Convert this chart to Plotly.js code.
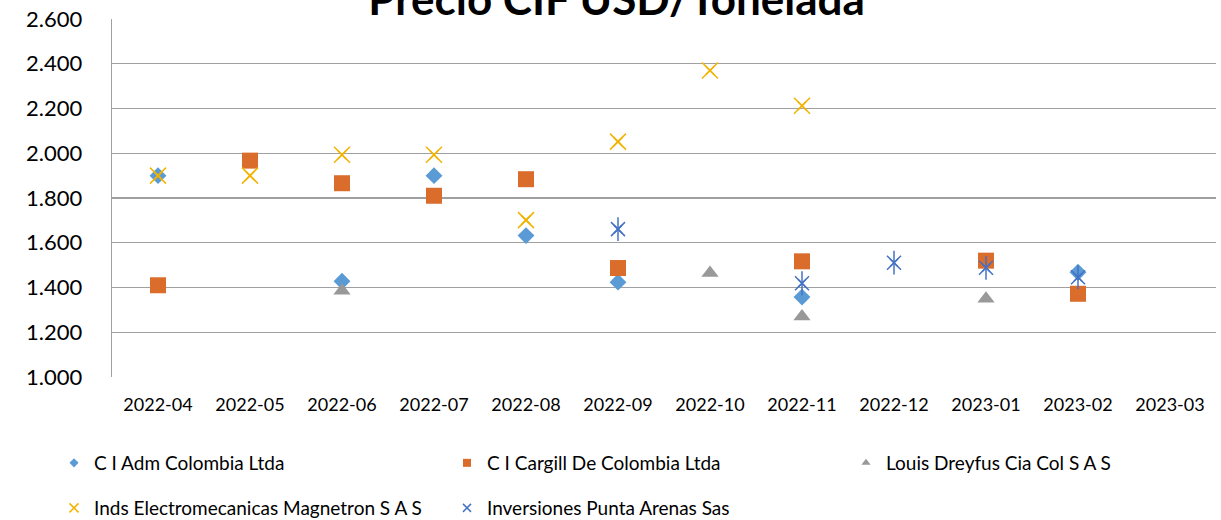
<!DOCTYPE html>
<html>
<head>
<meta charset="utf-8">
<script src="https://cdn.plot.ly/plotly-3.0.1.min.js"></script>
<style>html,body{margin:0;padding:0;background:#fff;}#chart{width:1221px;height:520px;}</style>
</head>
<body>
<div id="chart"></div>
<script>
const months = ["2022-04","2022-05","2022-06","2022-07","2022-08","2022-09","2022-10","2022-11","2022-12","2023-01","2023-02","2023-03"];

const admX = ["2022-04","2022-06","2022-07","2022-08","2022-09","2022-11","2023-02"];
const admY = [1900, 1428, 1900, 1632, 1424, 1357, 1468];

const cargillX = ["2022-04","2022-05","2022-06","2022-07","2022-08","2022-09","2022-11","2023-01","2023-02"];
const cargillY = [1410, 1967, 1866, 1810, 1884, 1487, 1517, 1520, 1372];

const dreyfusX = ["2022-06","2022-10","2022-11","2023-01"];
const dreyfusY = [1385, 1465, 1270, 1350];

const magnetronX = ["2022-04","2022-05","2022-06","2022-07","2022-08","2022-09","2022-10","2022-11"];
const magnetronY = [1900, 1900, 1993, 1993, 1701, 2052, 2370, 2212];

const puntaX = ["2022-09","2022-11","2022-12","2023-01","2023-02"];
const puntaY = [1661, 1419, 1511, 1488, 1446];

const yTicks = [1000, 1200, 1400, 1600, 1800, 2000, 2200, 2400, 2600];

const FONT = "Lato, 'Open Sans', sans-serif";
const C_ADM = "#5B9BD5", C_CAR = "#DA6D2B", C_DRE = "#999999", C_MAG = "#F2B300", C_PUN = "#4472C4";

// Each series: a full-size marker trace (no legend entry) followed by a small
// same-colour marker trace on the same data that only provides the small legend symbol.
function pair(name, x, y, bigMarker, smallMarker, legendId) {
  return [
    {name:name, x:x, y:y, type:"scatter", mode:"markers", marker:bigMarker, showlegend:false, hoverinfo:"skip"},
    {name:name, x:x, y:y, type:"scatter", mode:"markers", marker:smallMarker, showlegend:true, legend:legendId}
  ];
}

const traces = [].concat(
  pair("C I Adm Colombia Ltda", admX, admY,
       {symbol:"diamond", size:13, color:C_ADM},
       {symbol:"diamond", size:7, color:C_ADM}, "legend"),
  pair("C I Cargill De Colombia Ltda", cargillX, cargillY,
       {symbol:"square", size:16, color:C_CAR},
       {symbol:"square", size:8, color:C_CAR}, "legend"),
  pair("Louis Dreyfus Cia Col S A S", dreyfusX, dreyfusY,
       {symbol:"triangle-up", size:15, color:C_DRE},
       {symbol:"triangle-up", size:8, color:C_DRE}, "legend3"),
  pair("Inds Electromecanicas Magnetron S A S", magnetronX, magnetronY,
       {symbol:"x-thin-open", size:16, color:C_MAG, line:{color:C_MAG, width:1.5}},
       {symbol:"x-thin-open", size:9, color:C_MAG, line:{color:C_MAG, width:1.5}}, "legend2"),
  [{name:"Inversiones Punta Arenas Sas", x:puntaX, y:puntaY, type:"scatter", mode:"markers", showlegend:false, hoverinfo:"skip",
    marker:{symbol:"line-ns-open", size:17, color:C_PUN, line:{color:C_PUN, width:1.5}}}],
  pair("Inversiones Punta Arenas Sas", puntaX, puntaY,
       {symbol:"x-thin-open", size:14, color:C_PUN, line:{color:C_PUN, width:1.5}},
       {symbol:"x-thin-open", size:8, color:C_PUN, line:{color:C_PUN, width:1.5}}, "legend2")
);

const legendCommon = {orientation:"h", xref:"container", yref:"container", xanchor:"left", yanchor:"middle",
  entrywidth:348, entrywidthmode:"pixels", itemsizing:"trace",
  font:{family:FONT, size:19, color:"#000"}, bgcolor:"rgba(0,0,0,0)", itemclick:false};

const layout = {
  width:1221, height:520,
  paper_bgcolor:"#fff", plot_bgcolor:"#fff",
  separators:",.",
  margin:{l:112, r:5, t:19, b:143},
  font:{family:FONT, color:"#000"},
  title:{text:"<b>Precio CIF USD/Tonelada</b>", font:{family:FONT, size:44, color:"#000"},
         x:0.505, xref:"container", xanchor:"center", y:1.0, yref:"container", yanchor:"middle"},
  xaxis:{type:"category", categoryorder:"array", categoryarray:months, tickvals:months, ticktext:months,
         range:[-0.5, 11.5], showgrid:false, zeroline:false, showline:false,
         ticks:"outside", ticklen:11, tickcolor:"rgba(0,0,0,0)",
         tickfont:{family:FONT, size:18, color:"#000"}},
  yaxis:{range:[1000, 2600], tickvals:yTicks, tickformat:",d", showgrid:true, gridcolor:"#A0A0A0", gridwidth:1.3,
         zeroline:false, showline:true, linecolor:"#A0A0A0", linewidth:1.3,
         ticks:"outside", ticklen:24, tickcolor:"rgba(0,0,0,0)",
         tickfont:{family:FONT, size:22, color:"#000"}},
  showlegend:true,
  legend:Object.assign({x:54/1221, y:1 - 463/520}, legendCommon),
  legend3:Object.assign({x:846/1221, y:1 - 463/520}, legendCommon),
  legend2:Object.assign({x:54/1221, y:1 - 508/520}, legendCommon)
};

Plotly.newPlot("chart", traces, layout, {displayModeBar:false, staticPlot:true});
</script>
</body>
</html>
